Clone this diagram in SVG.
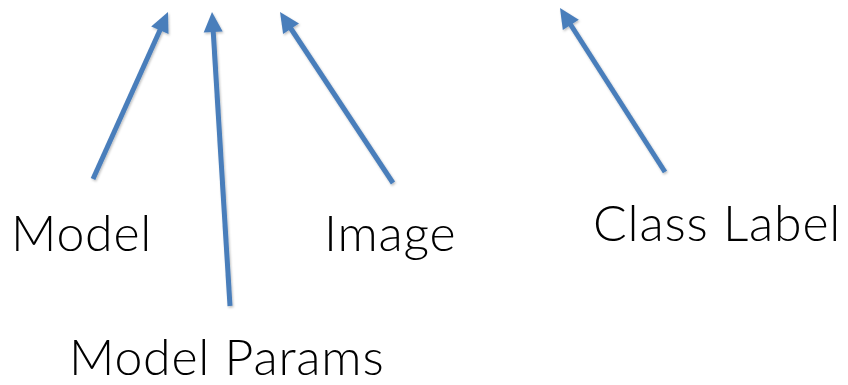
<svg xmlns="http://www.w3.org/2000/svg" width="848" height="385" viewBox="0 0 848 385">
<defs>
<filter id="sh" filterUnits="userSpaceOnUse" x="0" y="0" width="848" height="385">
<feDropShadow dx="1" dy="1.5" stdDeviation="1" flood-color="#000" flood-opacity="0.25"/>
</filter>
</defs>
<style>
.c{stroke:#4a7ebb;stroke-width:5;fill:none}
.h{fill:#4a7ebb;stroke:none}
.t{font-family:Lato,"Open Sans","Liberation Sans",sans-serif;font-weight:300;font-size:50px;letter-spacing:0.8px;fill:#000}
</style>
<rect width="848" height="385" fill="#fff"/>
<g id="connectors" filter="url(#sh)">
<line class="c" x1="93" y1="179" x2="160.5" y2="29"/>
<polygon class="h" points="168,12 168.5,34.1 151.2,26.4"/>
<line class="c" x1="230" y1="306" x2="213.2" y2="31"/>
<polygon class="h" points="212,12 222.7,31.4 203.7,32.5"/>
<line class="c" x1="393" y1="183" x2="290.5" y2="28"/>
<polygon class="h" points="280,12 299,23.5 283.1,33.9"/>
<line class="c" x1="665" y1="172" x2="570.2" y2="24"/>
<polygon class="h" points="560,8 578.8,19.7 562.8,30"/>
</g>
<g id="model"><text class="t" x="11" y="251">Model</text></g>
<g id="model-params"><text class="t" x="69" y="375">Model Params</text></g>
<g id="image"><text class="t" x="324" y="251">Image</text></g>
<g id="class-label"><text class="t" x="593" y="241">Class Label</text></g>
</svg>
